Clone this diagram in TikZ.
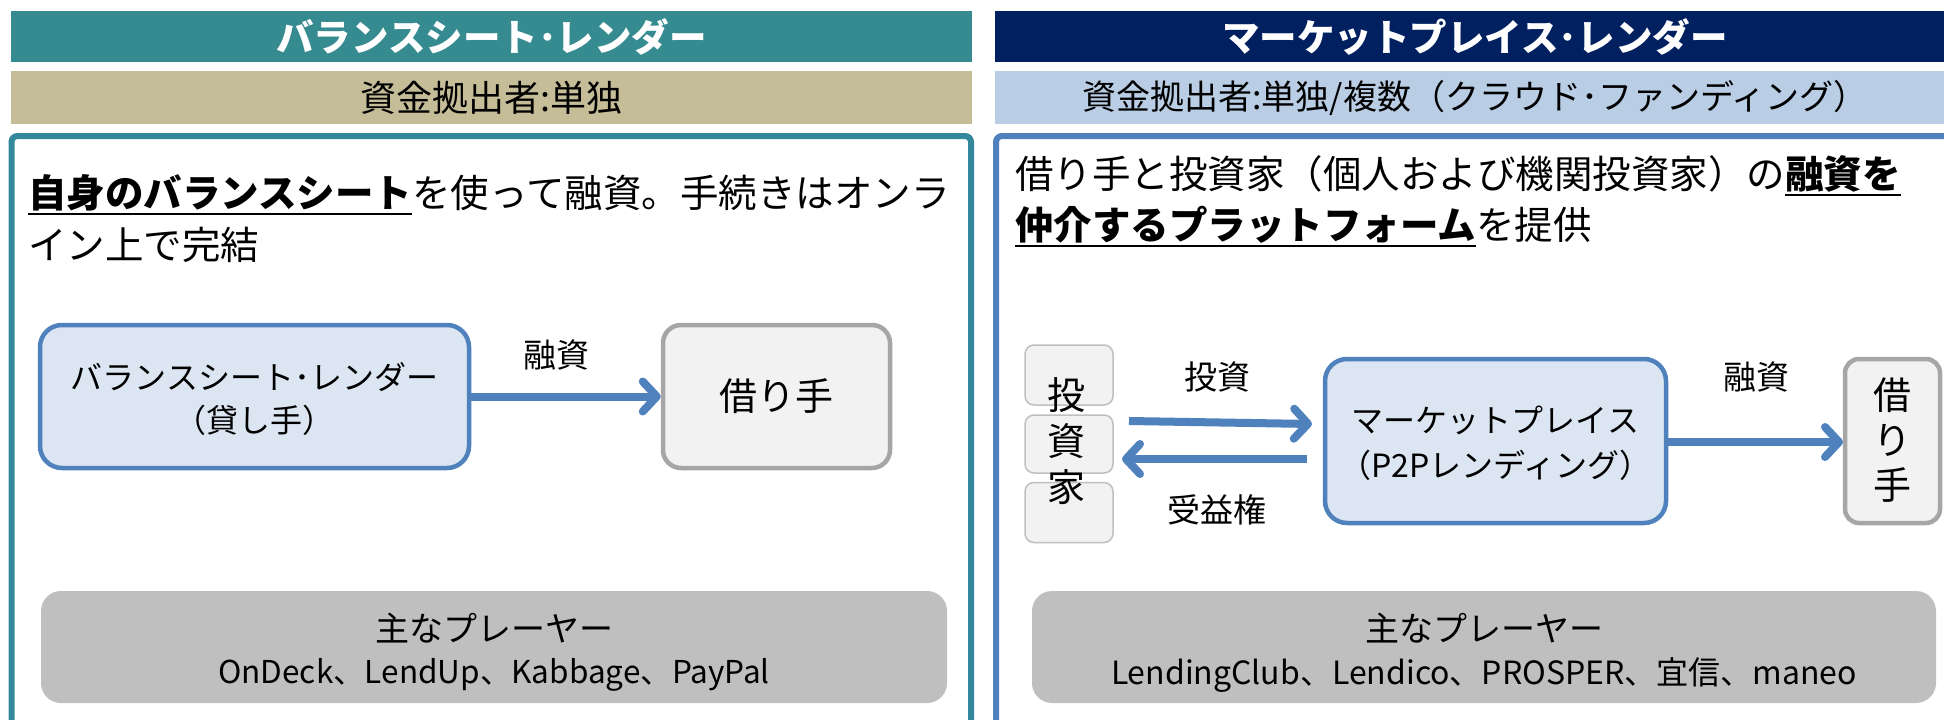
\documentclass[tikz,border=0pt]{standalone}
\usepackage{fontspec}
\setmainfont{Noto Sans CJK JP}
\usetikzlibrary{arrows.meta}
\definecolor{tealbar}{HTML}{368B91}
\definecolor{tealline}{HTML}{33889C}
\definecolor{navybar}{HTML}{002060}
\definecolor{tanbar}{HTML}{C4BD97}
\definecolor{lbluebar}{HTML}{B9CDE5}
\definecolor{blueline}{HTML}{4F81BD}
\definecolor{bluefill}{HTML}{DCE6F2}
\definecolor{grayfill}{HTML}{F2F2F2}
\definecolor{grayline}{HTML}{A6A6A6}
\definecolor{playerfill}{HTML}{BFBFBF}
\definecolor{invline}{HTML}{BFBFBF}
\newcommand{\fsz}[1]{\fontsize{#1}{#1}\selectfont}
\newcommand{\ulb}[1]{\setbox0\hbox{\textbf{#1}}\rlap{\rule[-8pt]{\wd0}{2.5pt}}\box0}
\tikzset{
  titletext/.style={text=white,font=\fsz{37.5}\bfseries,inner sep=0},
  subtext/.style={inner sep=0},
  bodytext/.style={font=\fsz{38.5},inner sep=0,anchor=base west},
  bluebox/.style={draw=blueline,fill=bluefill,line width=4.5pt,rounded corners=22pt,align=center,inner sep=0},
  graybox/.style={draw=grayline,fill=grayfill,line width=4.5pt,rounded corners=18pt,align=center,inner sep=0},
  invbox/.style={draw=invline,fill=grayfill,line width=1.5pt,rounded corners=9pt,minimum width=88pt,inner sep=0},
  lbl/.style={font=\fsz{33},inner sep=0},
  flow/.style={draw=blueline,line width=8pt,-{Straight Barb[length=14pt,width=30pt,round]}},
  players/.style={fill=playerfill,rounded corners=20pt,inner sep=0},
}
\begin{document}
\begin{tikzpicture}[x=1pt,y=-1pt]
\useasboundingbox (0,0) rectangle (1944,720);
\clip (0,0) rectangle (1944,720);
\fill[white] (0,0) rectangle (1944,720);
% header bars
\fill[tealbar] (11,11) rectangle (972,62);
\fill[navybar] (995,11) rectangle (1950,62);
\fill[tanbar] (11,71) rectangle (972,124);
\fill[lbluebar] (995,71) rectangle (1950,124);
\node[titletext] (t1) at (491.5,37) {バランスシート･レンダー};
\node[titletext] (t2) at (1475,37) {マーケットプレイス･レンダー};
\node[subtext,font=\fsz{36}] (s1) at (491.5,97.5) {資金拠出者:単独};
\node[subtext,font=\fsz{34}] (s2) at (1475,97.5) {資金拠出者:単独/複数（クラウド･ファンディング）};
% panels
\draw[tealline,line width=6pt,rounded corners=6pt] (11.5,760) -- (11.5,136) -- (971,136) -- (971,760);
\draw[blueline,line width=6pt,rounded corners=6pt] (996,760) -- (996,136) -- (1960,136);
% left body text
\node[bodytext] (l1) at (28,207) {\ulb{自身のバランスシート}を使って融資。手続きはオンラ};
\node[bodytext] (l2) at (28,259) {イン上で完結};
% right body text
\node[bodytext] (r1) at (1015,188) {借り手と投資家（個人および機関投資家）の\ulb{融資を}};
\node[bodytext] (r2) at (1015,239) {\ulb{仲介するプラットフォーム}を提供};
% left flow
\node[bluebox,minimum width=429pt,minimum height=143pt] (lender) at (254.5,396.5) {};
\node[font=\fsz{32},inner sep=0] (lenderA) at (254.5,377) {バランスシート･レンダー};
\node[font=\fsz{32},inner sep=0] (lenderB) at (254.5,420) {（貸し手）};
\node[graybox,minimum width=227pt,minimum height=143pt,font=\fsz{38}] (borrowerL) at (776.5,396.5) {借り手};
\draw[flow] (lender.east) -- (borrowerL.west);
\node[lbl] (lendL) at (556,355) {融資};
% right flow
\node[invbox,minimum height=60pt] (inv1) at (1069,375) {};
\node[invbox,minimum height=58pt] (inv2) at (1069,444) {};
\node[invbox,minimum height=60pt] (inv3) at (1069,512.5) {};
\node[font=\fsz{38},align=center,inner sep=0] (invtxt) at (1066,441) {投\\[8pt]資\\[8pt]家};
\node[bluebox,minimum width=341pt,minimum height=164pt] (market) at (1495.5,441) {};
\node[font=\fsz{32},inner sep=0] (marketA) at (1495.5,420) {マーケットプレイス};
\node[font=\fsz{32},inner sep=0] (marketB) at (1495.5,465) {（P2Pレンディング）};
\node[graybox,minimum width=95pt,minimum height=164pt,rounded corners=14pt] (borrowerR) at (1892.5,441) {};
\node[font=\fsz{38},align=center,inner sep=0] (brtxt) at (1892,440) {借\\[7pt]り\\[7pt]手};
\coordinate (a1s) at (1129,421);
\coordinate (a1e) at (1312,424);
\coordinate (a2s) at (1307,459);
\coordinate (a2e) at (1122,459);
\draw[flow] (a1s) -- (a1e);
\draw[flow] (a2s) -- (a2e);
\coordinate (a3e) at (1843,442);
\draw[flow] (market.east |- a3e) -- (a3e);
\node[lbl] (invest) at (1217,377) {投資};
\node[lbl] (benefit) at (1217,510) {受益権};
\node[lbl] (lendR) at (1756,377) {融資};
% players
\node[players,minimum width=906pt,minimum height=112pt] (pl) at (494,647) {};
\node[font=\fsz{34},inner sep=0] (plA) at (494,628) {主なプレーヤー};
\node[font=\fsz{31.5},inner sep=0] (plB) at (494,675) {OnDeck、LendUp、Kabbage、PayPal};
\node[players,minimum width=904pt,minimum height=112pt] (pr) at (1484,647) {};
\node[font=\fsz{34},inner sep=0] (prA) at (1484,628) {主なプレーヤー};
\node[font=\fsz{32},inner sep=0] (prB) at (1484,675) {LendingClub、Lendico、PROSPER、宜信、maneo};
\end{tikzpicture}
\end{document}
